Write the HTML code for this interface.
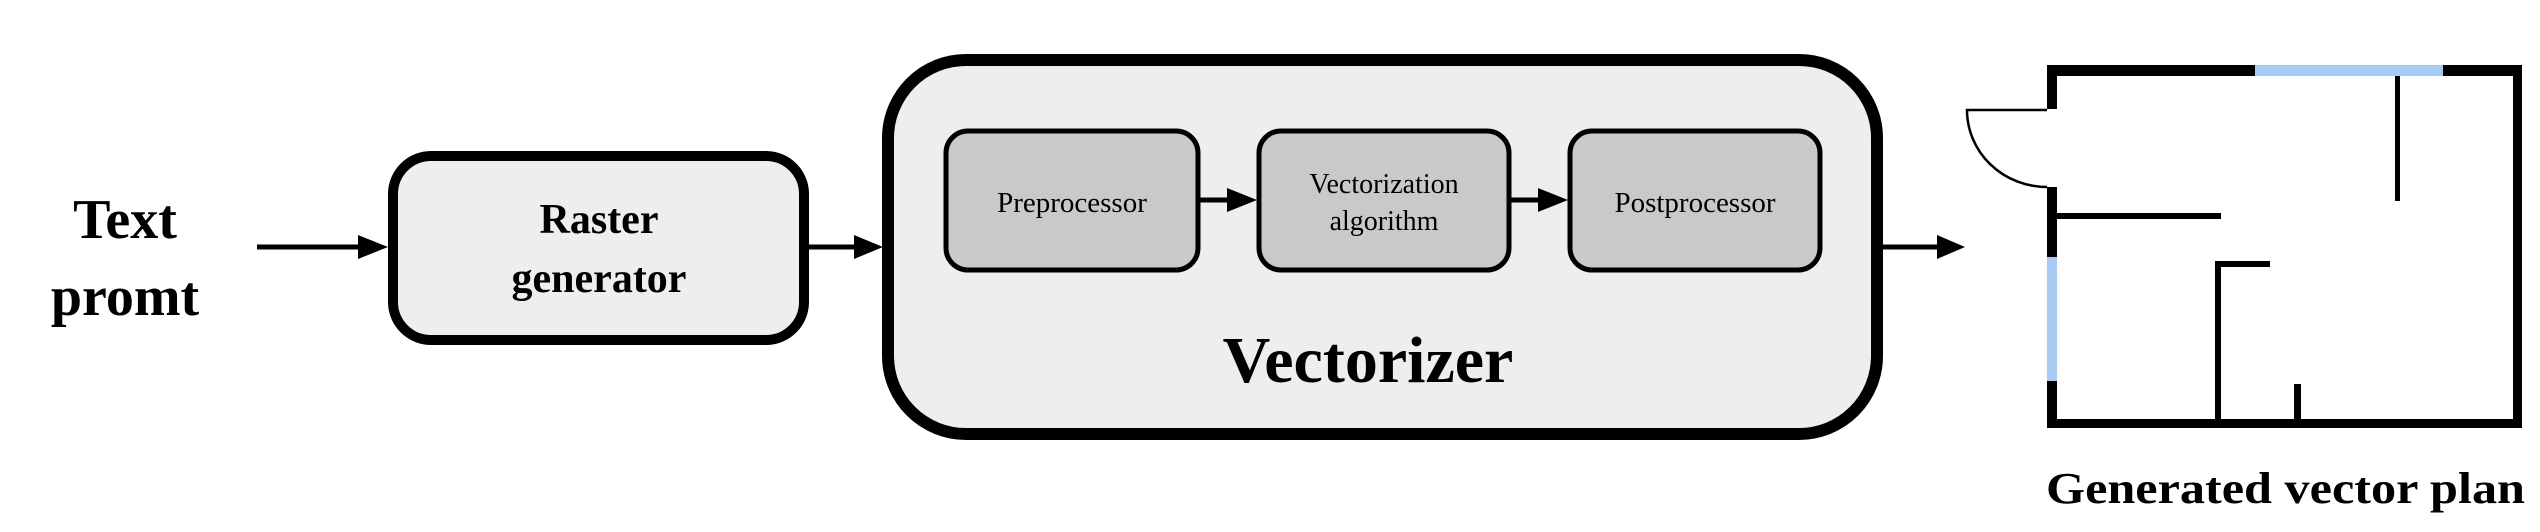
<!DOCTYPE html>
<html><head><meta charset="utf-8"><style>
html,body{margin:0;padding:0;background:#fff;}
svg{display:block;}
text{font-family:"Liberation Serif",serif;}
</style></head><body>
<svg width="2540" height="532" viewBox="0 0 2540 532" xmlns="http://www.w3.org/2000/svg">
<text x="125" y="238" font-size="56" font-weight="bold" text-anchor="middle">Text</text>
<text x="125" y="315" font-size="56" font-weight="bold" text-anchor="middle">promt</text>
<line x1="257" y1="247" x2="362" y2="247" stroke="#000" stroke-width="5"/>
<polygon points="358,235 388,247 358,259" fill="#000"/>
<rect x="393" y="156" width="411" height="184" rx="38" fill="#eeeeee" stroke="#000" stroke-width="10"/>
<text x="599" y="233" font-size="42" font-weight="bold" text-anchor="middle">Raster</text>
<text x="599" y="292" font-size="42" font-weight="bold" text-anchor="middle">generator</text>
<line x1="809" y1="247" x2="858" y2="247" stroke="#000" stroke-width="5"/>
<polygon points="854,235 883,247 854,259" fill="#000"/>
<g transform="translate(-5,0)">
<rect x="893" y="60" width="989" height="374" rx="78" fill="#eeeeee" stroke="#000" stroke-width="12"/>
<rect x="951" y="131" width="252" height="139" rx="22" fill="#c9c9c9" stroke="#000" stroke-width="5"/>
<text x="1077" y="212" font-size="29" text-anchor="middle">Preprocessor</text>
<rect x="1264" y="131" width="250" height="139" rx="22" fill="#c9c9c9" stroke="#000" stroke-width="5"/>
<text x="1389" y="193" font-size="28" text-anchor="middle">Vectorization</text>
<text x="1389" y="230" font-size="28" text-anchor="middle">algorithm</text>
<rect x="1575" y="131" width="250" height="139" rx="22" fill="#c9c9c9" stroke="#000" stroke-width="5"/>
<text x="1700" y="212" font-size="29" text-anchor="middle">Postprocessor</text>
<line x1="1205" y1="200" x2="1236" y2="200" stroke="#000" stroke-width="5"/>
<polygon points="1232,188 1262,200 1232,212" fill="#000"/>
<line x1="1516" y1="200" x2="1547" y2="200" stroke="#000" stroke-width="5"/>
<polygon points="1543,188 1573,200 1543,212" fill="#000"/>
<text x="1373" y="382" font-size="66" font-weight="bold" text-anchor="middle">Vectorizer</text>
<line x1="1888" y1="247" x2="1946" y2="247" stroke="#000" stroke-width="5"/>
<polygon points="1942,235 1970,247 1942,259" fill="#000"/>
</g>
<g transform="translate(-8,0)">
<g fill="#000">
<rect x="2055" y="65" width="208" height="11"/>
<rect x="2263" y="65" width="188" height="11" fill="#a6cbf7"/>
<rect x="2451" y="65" width="79" height="11"/>
<rect x="2521" y="65" width="9" height="363"/>
<rect x="2055" y="419" width="475" height="9"/>
<rect x="2055" y="65" width="10" height="44"/>
<rect x="2055" y="187" width="10" height="70"/>
<rect x="2055" y="257" width="10" height="124" fill="#a6cbf7"/>
<rect x="2055" y="381" width="10" height="47"/>
<rect x="2403" y="76" width="5" height="125"/>
<rect x="2065" y="213" width="164" height="6"/>
<rect x="2223" y="261" width="55" height="6"/>
<rect x="2223" y="261" width="6" height="160"/>
<rect x="2302" y="384" width="7" height="37"/>
</g>
<path d="M2055 110 L1975 110 A80 77 0 0 0 2055 187" fill="none" stroke="#000" stroke-width="2.5"/>
</g>
<text x="2046" y="503" font-size="44" font-weight="bold" textLength="479" lengthAdjust="spacingAndGlyphs">Generated vector plan</text>
</svg>
</body></html>
